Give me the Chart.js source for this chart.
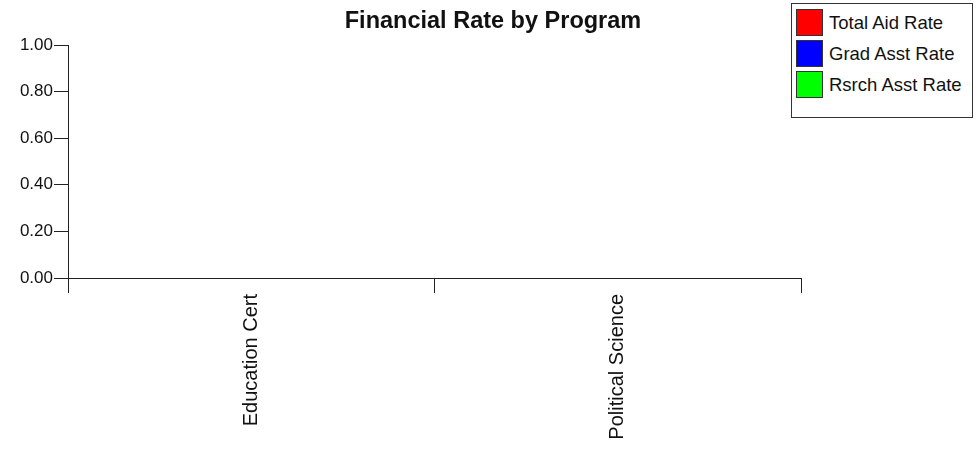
<!DOCTYPE html>
<html>
<head>
<meta charset="utf-8">
<script src="https://cdn.jsdelivr.net/npm/chart.js@4"></script>
<style>
  body{margin:0;background:#fff;font-family:"Liberation Sans",Arial,sans-serif;}
  #wrap{position:relative;width:978px;height:453px;}
  #title{position:absolute;left:0;width:986px;top:8px;line-height:24px;text-align:center;font-weight:bold;font-size:23.5px;color:#111;}
  #legend{position:absolute;left:791px;top:3px;width:182px;height:115px;border:1px solid #333;box-sizing:border-box;background:#fff;}
  .item{position:absolute;left:4px;height:27px;display:flex;align-items:center;font-size:18.5px;color:#111;}
  .sw{width:25px;height:25px;border:1px solid #333;margin-right:6px;}
</style>
</head>
<body>
<div id="wrap">
  <canvas id="myChart" width="978" height="453"></canvas>
  <div id="title">Financial Rate by Program</div>
  <div id="legend"></div>
</div>
<script>
const programs=['Education Cert','Political Science'];
const seriesNames=['Total Aid Rate','Grad Asst Rate','Rsrch Asst Rate'];
const totalAid=[0,0];
const gradAsst=[0,0];
const rsrchAsst=[0,0];
const yTicks=[0,0.2,0.4,0.6,0.8,1.0];
const colors=['#ff0000','#0000ff','#00ff00'];

const values=[totalAid,gradAsst,rsrchAsst];
const legend=document.getElementById('legend');
seriesNames.map((name,i)=>{
  const d=document.createElement('div');
  d.className='item';
  d.style.top=(5+i*31)+'px';
  d.innerHTML='<span class="sw" style="background:'+colors[i]+'"></span>'+name;
  legend.appendChild(d);
});

const ctx=document.getElementById('myChart').getContext('2d');
new Chart(ctx,{
  type:'bar',
  data:{
    labels:programs,
    datasets:seriesNames.map((name,i)=>({
      label:name,
      data:values[i],
      backgroundColor:colors[i],
      borderColor:'#333',
      borderWidth:0
    }))
  },
  options:{
    responsive:false,
    animation:false,
    layout:{padding:{left:0,right:177,top:45,bottom:0}},
    plugins:{legend:{display:false},title:{display:false},tooltip:{enabled:false}},
    scales:{
      x:{
        grid:{drawOnChartArea:false,tickLength:15,color:'#222',offset:true},
        border:{color:'#222',width:1},
        ticks:{minRotation:90,maxRotation:90,padding:1,color:'#111',font:{family:'"Liberation Sans", Arial',size:20}},
        afterFit(scale){scale.height=175;}
      },
      y:{
        min:0,max:1,
        afterBuildTicks(scale){scale.ticks=yTicks.map(v=>({value:v}));},
        grid:{drawOnChartArea:false,tickLength:14,color:'#222'},
        border:{color:'#222',width:1},
        ticks:{padding:1,color:'#111',font:{family:'"Liberation Sans", Arial',size:17},callback:v=>Number(v).toFixed(2)},
        afterFit(scale){scale.width=68;}
      }
    }
  }
});
</script>
</body>
</html>
